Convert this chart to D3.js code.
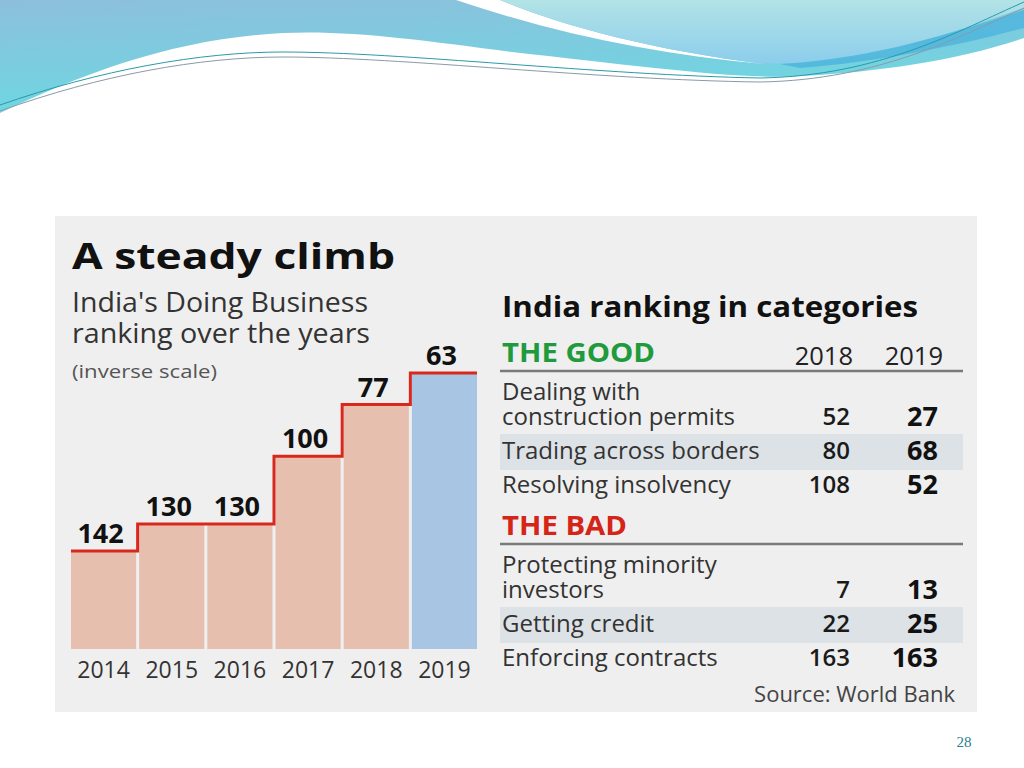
<!DOCTYPE html>
<html><head><meta charset="utf-8">
<script src="https://cdn.jsdelivr.net/npm/d3@7"></script>
<style>html,body{margin:0;padding:0;background:#fff;}svg{display:block;}</style>
</head><body>
<svg id="c" width="1024" height="768"></svg>
<script>
// ---- data ----
const years = ["2014","2015","2016","2017","2018","2019"];
const ranks = [142,130,130,100,77,63];
const goodCats = ["Dealing with\nconstruction permits","Trading across borders","Resolving insolvency"];
const good2018 = [52,80,108];
const good2019 = [27,68,52];
const badCats = ["Protecting minority\ninvestors","Getting credit","Enforcing contracts"];
const bad2018 = [7,22,163];
const bad2019 = [13,25,163];
const colYears = ["2018","2019"];

const svg = d3.select("#c");
const F = "'Open Sans', 'Noto Sans', sans-serif";

// ---- decorative header waves ----
const defs = svg.append("defs");
const g1 = defs.append("linearGradient").attr("id","gBlue").attr("x1",0).attr("y1",0).attr("x2",0.3).attr("y2",1);
g1.append("stop").attr("offset","0").attr("stop-color","#8dbfdc");
g1.append("stop").attr("offset","1").attr("stop-color","#6cd8e2");
const g2 = defs.append("linearGradient").attr("id","gLight").attr("x1",0).attr("y1",0).attr("x2",0).attr("y2",1);
g2.append("stop").attr("offset","0").attr("stop-color","#b2e3e6");
g2.append("stop").attr("offset","1").attr("stop-color","#8ccdec");
svg.append("path").attr("fill","url(#gBlue)")
  .attr("d","M0,0 L1024,0 L1024,38 C960,60 880,72 800,76 C740,80 640,66 512,52 C420,40 350,30 283,33 C180,38 90,70 0,113 Z");
svg.append("path").attr("fill","#fff")
  .attr("d","M456,0 L500,0 C560,25 650,50 765,64 C660,55 560,35 456,0 Z");
svg.append("path").attr("fill","url(#gLight)")
  .attr("d","M500,0 L1024,0 L1024,8 C960,30 880,58 800,63 C760,65 700,60 765,64 C650,50 560,25 500,0 Z");
svg.append("path").attr("fill","#4cb4dc").attr("opacity",0.8)
  .attr("d","M780,64 C880,58 960,30 1024,10 L1024,28 C960,45 880,62 800,68 Z");
svg.append("path").attr("fill","none").attr("stroke","#2a9aa8").attr("stroke-width",1)
  .attr("d","M0,105 C100,70 200,52 283,52 C400,52 600,75 760,78 C880,76 960,30 1024,2");
svg.append("path").attr("fill","none").attr("stroke","#8a9aa8").attr("stroke-width",1)
  .attr("d","M0,111 C100,75 200,57 283,57 C400,57 600,80 760,82 C880,80 960,36 1024,8");

// ---- panel ----
svg.append("rect").attr("x",55).attr("y",216).attr("width",922).attr("height",496).attr("fill","#efefef");

function fitText(sel, len){ sel.attr("textLength",len).attr("lengthAdjust","spacingAndGlyphs"); return sel; }

// ---- left: titles ----
fitText(svg.append("text").attr("x",72).attr("y",269).attr("font-family",F).attr("font-weight",700)
  .attr("font-size",36).attr("fill","#111").text("A steady climb"), 323);
fitText(svg.append("text").attr("x",72).attr("y",312).attr("font-family",F).attr("font-size",27).attr("fill","#333").text("India's Doing Business"), 296);
fitText(svg.append("text").attr("x",72).attr("y",343).attr("font-family",F).attr("font-size",27).attr("fill","#333").text("ranking over the years"), 298);
fitText(svg.append("text").attr("x",72).attr("y",378).attr("font-family",F).attr("font-size",19).attr("fill","#555").text("(inverse scale)"), 145);

// ---- bars ----
const x = d3.scaleBand().domain(years).range([71,477]).paddingInner(0.045).paddingOuter(0);
const y = d3.scaleLinear().domain([0,185.5]).range([231,649]);
const base = y(185.5);
svg.append("g").selectAll("rect").data(years).join("rect")
  .attr("x",d=>x(d)).attr("width",x.bandwidth())
  .attr("y",(d,i)=>y(ranks[i])).attr("height",(d,i)=>base-y(ranks[i]))
  .attr("fill",(d,i)=>i===years.length-1?"#a8c6e3":"#e6bfae");

const gap = x.step()*x.paddingInner();
const pts = years.map((d,i)=>[i===0?x(d):x(d)-gap/2, y(ranks[i])]);
pts.push([x(years[years.length-1])+x.bandwidth(), y(ranks[ranks.length-1])]);
svg.append("path").attr("d",d3.line().curve(d3.curveStepAfter)(pts))
  .attr("fill","none").attr("stroke","#d8281c").attr("stroke-width",3);

svg.append("g").selectAll("text").data(years).join("text")
  .attr("x",d=>x(d)+x.bandwidth()/2-3).attr("y",(d,i)=>y(ranks[i])-8)
  .attr("text-anchor","middle").attr("font-family",F).attr("font-weight",700)
  .attr("font-size",27).attr("fill","#111").text((d,i)=>ranks[i]);

const xAxis = svg.append("g").attr("transform",`translate(0,${base})`)
  .call(d3.axisBottom(x).tickSize(0).tickPadding(0));
xAxis.select(".domain").remove();
xAxis.selectAll("text").attr("dy",null).attr("y",29).attr("font-family",F)
  .attr("font-size",23).attr("fill","#333");

// ---- right: table ----
fitText(svg.append("text").attr("x",502).attr("y",317).attr("font-family",F).attr("font-weight",700)
  .attr("font-size",29).attr("fill","#111").text("India ranking in categories"), 416);

const col2018 = 850, col2019 = 938;
svg.selectAll(".hdr").data(colYears).join("text").attr("class","hdr")
  .attr("x",(d,i)=>i===0?853:943).attr("y",365).attr("text-anchor","end")
  .attr("font-family",F).attr("font-size",25.5).attr("fill","#222").text(d=>d);

function section(title, color, ruleY, cats, v18, v19, titleLen){
  fitText(svg.append("text").attr("x",502).attr("y",ruleY-9).attr("font-family",F).attr("font-weight",700)
    .attr("font-size",26).attr("fill",color).text(title), titleLen);
  svg.append("line").attr("x1",500).attr("x2",963).attr("y1",ruleY).attr("y2",ruleY)
    .attr("stroke","#7a7a7a").attr("stroke-width",2.5);
  let yb = ruleY;
  cats.forEach((c,i)=>{
    const lines = c.split("\n");
    yb += lines.length===2 ? 54 : 34;
    if(i===1){
      svg.append("rect").attr("x",500).attr("width",463).attr("y",yb-25).attr("height",36).attr("fill","#dde2e6");
    }
    lines.forEach((ln,j)=>{
      svg.append("text").attr("font-family",F).attr("font-size",24).attr("fill","#333")
        .attr("x",502).attr("y",yb-(lines.length-1-j)*25).text(ln);
    });
    svg.append("text").attr("x",col2018).attr("y",yb).attr("text-anchor","end").attr("font-family",F)
      .attr("font-weight",600).attr("font-size",24).attr("fill","#1a1a1a").text(v18[i]);
    svg.append("text").attr("x",col2019).attr("y",yb+1).attr("text-anchor","end").attr("font-family",F)
      .attr("font-weight",700).attr("font-size",27).attr("fill","#111").text(v19[i]);
  });
}
section("THE GOOD","#1f9a3c",371,goodCats,good2018,good2019,153);
section("THE BAD","#d52418",544,badCats,bad2018,bad2019,125);

svg.append("text").attr("x",955).attr("y",702).attr("text-anchor","end").attr("font-family",F)
  .attr("font-size",22).attr("fill","#444").text("Source: World Bank");

// page number
svg.append("text").attr("x",964).attr("y",747).attr("text-anchor","middle")
  .attr("font-family","'Liberation Serif', 'DejaVu Serif', serif").attr("font-size",15)
  .attr("fill","#2a7f8f").text("28");
</script>
</body></html>
